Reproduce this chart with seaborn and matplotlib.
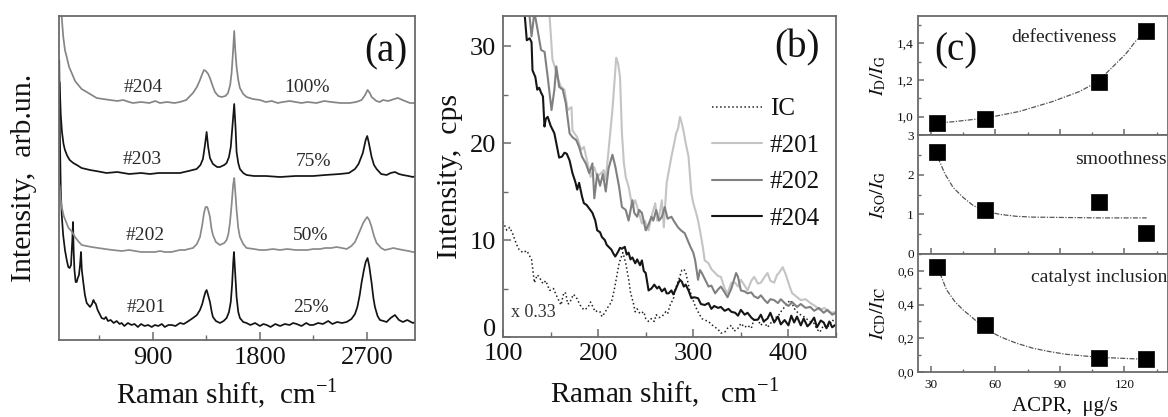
import numpy as np
import pandas as pd
import matplotlib
matplotlib.use("Agg")
import matplotlib.pyplot as plt
import matplotlib.transforms as mtransforms
import seaborn as sns
from matplotlib.ticker import FixedLocator, MultipleLocator

# ---------------- panel (a): Raman spectra (arb. units, stacked) ----------------
a201_x = [112, 118, 125, 133, 145, 160, 175, 188, 200, 211, 222, 228, 233, 240, 250, 259, 268, 278, 287, 295,
          302, 315, 328, 343, 357, 371, 388, 400, 407, 420, 435, 452, 469, 490, 505, 522, 545, 570, 595, 620,
          637, 660, 690, 720, 745, 774, 800, 830, 860, 890, 917, 945, 975, 1000, 1030, 1058, 1090, 1128, 1160,
          1200, 1237, 1270, 1296, 1315, 1330, 1342, 1352, 1362, 1380, 1395, 1405, 1430, 1464, 1495, 1520, 1540,
          1555, 1566, 1576, 1582, 1590, 1604, 1618, 1632, 1660, 1688, 1720, 1760, 1800, 1830, 1857, 1890, 1930,
          1970, 2010, 2050, 2080, 2109, 2150, 2190, 2220, 2248, 2290, 2330, 2375, 2410, 2450, 2490, 2530, 2570,
          2600, 2620, 2640, 2655, 2675, 2690, 2706, 2720, 2740, 2755, 2768, 2790, 2810, 2840, 2866, 2900, 2936,
          2970, 3003, 3040, 3087, 3110]
a201_y = [280, 200, 150, 125, 105, 90, 80, 73, 72, 75, 100, 118, 90, 70, 58, 58, 62, 65, 75, 88,
          70, 57, 45, 37, 35, 33, 36, 40, 38, 36, 30, 26, 22, 21, 23, 19, 20, 17, 19, 16,
          17, 14, 17, 15, 16, 13, 16, 14, 15, 13, 15, 14, 16, 13, 15, 15, 14, 17, 16,
          19, 22, 25, 30, 36, 43, 48, 50, 46, 38, 28, 23, 19, 17, 19, 22, 28,
          38, 55, 78, 88, 72, 43, 28, 22, 18, 17, 15, 17, 14, 16, 15, 13, 16,
          14, 16, 15, 17, 16, 14, 17, 15, 15, 17, 16, 19, 16, 18, 17, 18, 21,
          26, 33, 45, 57, 70, 78, 82, 74, 57, 42, 33, 24, 20, 19, 18, 22, 25,
          20, 18, 20, 17, 18]

a202_x = [115, 125, 135, 150, 170, 190, 215, 230, 245, 270, 301, 340, 385, 440, 497, 560, 637, 700, 750, 800,
          850, 917, 960, 1000, 1058, 1090, 1128, 1170, 1200, 1237, 1270, 1296, 1315, 1330, 1343, 1357, 1370, 1380,
          1392, 1405, 1430, 1464, 1500, 1520, 1535, 1548, 1562, 1575, 1584, 1592, 1604, 1618, 1632, 1660, 1688,
          1750, 1800, 1850, 1910, 1969, 2030, 2100, 2150, 2200, 2250, 2305, 2350, 2400, 2445, 2490, 2530, 2570,
          2600, 2630, 2655, 2669, 2690, 2703, 2720, 2740, 2760, 2782, 2820, 2852, 2890, 2922, 2960, 3003, 3050,
          3087, 3110]
a202_y = [155, 140, 132, 124, 118, 112, 109, 106, 103, 99, 95, 94, 93, 92, 91, 90, 89, 90, 89, 88,
          88, 88, 89, 88, 88, 89, 90, 90, 91, 92, 96, 103, 115, 127, 133, 133, 128, 123,
          112, 105, 98, 95, 97, 100, 106, 117, 135, 155, 162, 150, 130, 112, 103, 96, 92,
          91, 90, 90, 91, 90, 91, 90, 90, 90, 91, 91, 92, 92, 93, 92, 91, 94,
          98, 106, 113, 117, 121, 123, 120, 113, 104, 97, 92, 90, 91, 92, 91, 90, 89,
          88, 88]

a203_x = [115, 125, 135, 148, 160, 180, 200, 230, 260, 300, 371, 420, 511, 600, 700, 800, 875, 950, 1050, 1128,
          1200, 1268, 1300, 1321, 1338, 1352, 1365, 1380, 1405, 1440, 1464, 1500, 1520, 1540, 1555, 1570, 1584,
          1595, 1604, 1618, 1632, 1660, 1688, 1750, 1850, 1969, 2100, 2248, 2350, 2473, 2550, 2600, 2630, 2666,
          2690, 2703, 2715, 2740, 2760, 2782, 2820, 2866, 2900, 2936, 2970, 3003, 3050, 3087, 3110]
a203_y = [258, 225, 208, 196, 190, 184, 180, 177, 175, 172, 170, 169, 167, 168, 166, 167, 166, 167, 167, 167,
          169, 171, 175, 181, 195, 208, 193, 182, 176, 173, 173, 175, 177, 183, 193, 215, 236,
          213, 188, 177, 171, 167, 165, 164, 164, 163, 164, 164, 165, 166, 167, 171, 176, 187,
          200, 204, 198, 183, 175, 171, 166, 165, 167, 168, 166, 165, 164, 163, 164]

a204_x = [115, 133, 140, 146, 160, 175, 195, 217, 245, 272, 300, 343, 385, 427, 480, 539, 600, 650, 700, 732,
          800, 870, 920, 959, 1020, 1080, 1128, 1180, 1237, 1270, 1296, 1315, 1330, 1345, 1352, 1365, 1380, 1400,
          1422, 1450, 1478, 1510, 1532, 1550, 1562, 1575, 1584, 1593, 1604, 1618, 1632, 1660, 1688, 1740, 1800,
          1850, 1900, 1950, 1994, 2050, 2100, 2150, 2200, 2277, 2340, 2400, 2480, 2557, 2610, 2656, 2685, 2706,
          2725, 2740, 2780, 2810, 2835, 2880, 2930, 2961, 3000, 3062, 3110]
a204_y = [380, 323, 312, 303, 290, 283, 273, 267, 259, 255, 251, 248, 245, 242, 241, 240, 239, 240, 238, 237,
          238, 237, 239, 237, 238, 237, 238, 240, 247, 253, 260, 266, 270, 269, 268, 266, 262, 255,
          248, 244, 243, 244, 247, 255, 267, 290, 309, 290, 273, 260, 252, 246, 243, 241, 240,
          238, 239, 237, 238, 239, 238, 237, 238, 237, 239, 238, 237, 237, 238, 240, 245, 250,
          247, 243, 239, 238, 240, 239, 241, 242, 240, 237, 237]

a_samples = ["#201", "#202", "#203", "#204"]
a_percent = ["25%", "50%", "75%", "100%"]
a_xticks = [900, 1800, 2700]

# ---------------- panel (b): low-frequency Raman, cps ----------------
ic_x = [100, 104, 107, 110, 114, 117, 121, 125, 130, 133, 136, 138, 142, 145, 149, 153, 157, 161, 164, 166,
        168, 170, 174, 177, 181, 185, 189, 192, 194, 197, 199, 202, 204, 207, 211, 214, 217, 220, 222, 226,
        229, 232, 234, 237, 239, 241, 244, 248, 250, 253, 256, 259, 261, 264, 267, 271, 273, 276, 279, 281,
        285, 288, 290, 292, 294, 296, 299, 302, 305, 309, 312, 316, 319, 323, 326, 329, 333, 336, 340, 343,
        347, 350, 354, 357, 361, 364, 368, 371, 374, 378, 382, 386, 389, 392, 396, 399, 402, 405, 407, 411,
        416, 420, 424, 427, 430, 433, 437, 441, 444, 446, 450]
ic_y = [11.9, 11.0, 11.3, 10.7, 9.6, 9.0, 8.7, 8.9, 8.0, 5.6, 6.4, 6.2, 5.5, 5.8, 4.8, 5.0, 4.1, 3.3, 4.6, 4.5,
        3.4, 3.5, 4.4, 4.1, 3.3, 2.8, 3.0, 3.6, 3.2, 2.6, 2.7, 2.6, 2.1, 2.5, 3.2, 3.6, 4.9, 6.5, 7.6, 8.7,
        7.6, 6.0, 4.6, 3.5, 2.6, 2.9, 2.4, 2.6, 1.9, 1.6, 1.9, 1.6, 2.3, 2.0, 2.1, 2.6, 2.4, 3.4, 3.9, 4.9,
        6.0, 6.9, 7.0, 6.7, 5.8, 4.9, 4.0, 3.2, 2.6, 1.9, 1.75, 1.6, 1.3, 1.0, 0.8, 0.4, 0.5, 0.9, 1.2, 0.6,
        0.9, 1.4, 1.0, 1.2, 0.9, 1.9, 1.75, 1.2, 1.6, 1.0, 1.5, 2.0, 2.1, 2.6, 3.1, 3.5, 3.8, 3.2, 2.8, 2.4,
        2.1, 1.8, 1.5, 1.4, 0.8, 0.5, 1.2, 1.0, 1.4, 1.75, 1.5]

b201_x = [146, 149, 152, 154, 157, 161, 164.6, 168, 172, 173, 178, 182, 185, 189, 192, 196, 199, 203, 206, 208,
          211, 215, 219, 221, 223, 225, 227, 229, 232, 236, 239, 243, 246, 249, 253, 256, 260, 262, 264, 267,
          269, 272, 277, 280, 282, 284, 286, 288, 290, 292, 295, 298, 300, 303, 305, 307, 310, 312, 316, 319,
          323, 326, 329, 333, 336, 340, 344, 347, 350, 354, 357, 361, 364, 368, 371, 375, 378, 381, 385, 388,
          390, 394, 397, 399, 402, 404, 408, 413, 418, 423, 428, 433, 438, 442, 446, 450]
b201_y = [36, 33, 28.6, 28.0, 26.8, 25.8, 25.5, 23.4, 23.7, 21.3, 20.6, 19.3, 19.6, 17.9, 16.5, 17.5, 16.5, 16.9, 17.2, 16.2,
          19.3, 23.4, 28.8, 28.2, 26.8, 21.0, 18.0, 16.5, 15.5, 13.4, 14.1, 12.8, 11.7, 12.0, 11.0, 12.4, 13.8, 12.0, 12.4, 14.1,
          11.3, 15.9, 18.6, 20.0, 21.0, 21.5, 22.7, 22.0, 21.1, 20.0, 18.6, 14.8, 13.8, 12.8, 12.0, 11.0, 9.3, 7.9, 7.6, 7.0,
          6.6, 6.3, 6.2, 5.0, 4.5, 5.6, 5.6, 5.2, 5.9, 5.3, 4.8, 5.8, 6.2, 5.5, 5.6, 6.2, 6.6, 5.8, 5.6, 6.4,
          6.6, 7.2, 6.5, 5.9, 5.0, 4.5, 4.2, 3.8, 3.9, 3.5, 3.2, 2.8, 3.0, 2.6, 2.5, 2.6]

b202_x = [125, 128, 130, 133, 136.5, 140, 143.7, 147, 151, 154, 156, 159, 162.8, 166, 170, 173, 177, 180, 183, 187,
          190.6, 194, 196, 199, 202, 205, 208, 211, 215, 218, 222, 225, 229, 232, 236, 238, 241, 243, 246, 250,
          253, 256, 258, 261, 264, 267, 270, 273, 277, 280, 284, 287, 291, 294, 297, 300, 302, 305, 307, 309,
          312, 316, 319, 323, 326, 329, 333, 336, 340, 345, 347, 350, 354, 357, 361, 364, 368, 371, 375, 378,
          381, 385, 389, 392, 396, 400, 404, 409, 413, 418, 423, 427, 432, 437, 441, 446, 450]
b202_y = [36, 33, 31, 33.5, 31.6, 29.6, 29.4, 26.8, 23.4, 25.5, 27.9, 25.8, 25.5, 24.1, 21.0, 20.6, 20.3, 19.6, 18.6, 17.9,
          16.9, 17.9, 14.3, 16.8, 15.6, 16.8, 15.0, 17.4, 18.8, 17.6, 15.5, 13.4, 13.1, 12.0, 14.1, 12.8, 12.4, 13.1, 12.8, 11.0,
          11.6, 12.4, 12.0, 13.1, 12.0, 12.4, 13.4, 12.2, 12.4, 11.9, 11.3, 11.0, 10.7, 10.0, 9.3, 8.7, 7.9, 5.9, 6.9, 6.6,
          6.0, 5.2, 5.3, 4.5, 4.9, 5.2, 4.6, 4.1, 5.0, 6.6, 6.2, 4.8, 4.7, 4.5, 4.6, 4.2, 4.0, 4.3, 3.8, 3.5,
          3.9, 3.8, 3.5, 3.9, 3.5, 3.2, 3.6, 3.1, 3.4, 3.0, 3.1, 2.7, 3.0, 2.5, 2.8, 2.3, 2.5]

b204_x = [120, 123, 125, 128, 130, 131, 134, 136, 138, 140, 142, 143.6, 145, 147, 150, 154, 157, 159, 162, 164.6,
          167, 170, 173, 176, 178, 180, 183, 185, 188, 191, 194, 197, 199, 202, 204, 207, 209, 211, 214, 216,
          218, 221, 223, 225, 228, 230, 232, 234, 236, 239, 241, 244, 246, 248, 250, 253, 256, 259, 262, 264,
          267, 270, 272, 274, 277, 279, 281, 284, 286, 288, 290, 292, 295, 298, 301, 305, 308, 312, 316, 319,
          322, 326, 329, 333, 337, 340, 344, 347, 350, 354, 357, 361, 364, 368, 371, 374, 378, 381, 385, 389,
          392, 396, 400, 403, 406, 409, 413, 416, 420, 423, 427, 430, 434, 437, 440, 443, 446, 450]
b204_y = [36, 33, 30.6, 30.8, 30.4, 27.5, 26.8, 25.5, 25.7, 25.2, 24.8, 21.7, 22.5, 22.7, 21.8, 21.0, 19.5, 18.5, 18.6, 19.0,
          18.9, 18.2, 16.9, 16.0, 15.2, 15.9, 14.5, 13.8, 13.6, 13.2, 12.8, 12.0, 11.0, 10.8, 10.3, 10.0, 9.5, 9.3, 9.0, 8.6,
          8.3, 8.8, 9.2, 9.1, 9.3, 8.5, 8.7, 8.0, 8.2, 7.6, 8.0, 7.4, 7.9, 6.8, 6.6, 4.8, 5.0, 5.4, 5.0, 5.2,
          4.7, 5.0, 4.5, 4.5, 4.8, 4.4, 4.8, 5.5, 5.9, 5.7, 5.2, 5.4, 4.8, 4.0, 4.1, 4.0, 3.4, 3.3, 3.5, 2.9,
          3.2, 3.0, 3.1, 2.7, 2.9, 2.6, 2.5, 2.2, 2.8, 2.3, 2.5, 2.0, 1.75, 1.8, 2.3, 1.6, 1.9, 2.5, 1.5, 2.1,
          1.3, 1.75, 1.2, 2.2, 1.5, 2.1, 1.2, 1.9, 1.1, 1.4, 2.0, 1.0, 1.7, 1.5, 0.9, 1.6, 1.0, 1.3]

b_labels = ["IC", "#201", "#202", "#204"]

# ---------------- panel (c): ratios vs ACPR ----------------
acpr = [33, 55, 108, 130]
id_ig = [0.967, 0.985, 1.19, 1.47]
iso_ig = [2.56, 1.11, 1.30, 0.54]
icd_iic = [0.62, 0.279, 0.081, 0.076]

fit_d_x = [30, 33, 40, 55.8, 71.3, 86.6, 99, 107.4, 114.5, 120.7, 125.4, 130.6]
fit_d_y = [0.962, 0.966, 0.972, 0.993, 1.029, 1.083, 1.137, 1.19, 1.272, 1.344, 1.416, 1.47]
fit_so_x = [33.3, 36.5, 40.3, 44.9, 49.5, 55, 62, 69.7, 77.3, 92.9, 108.3, 130.3]
fit_so_y = [2.43, 2.02, 1.68, 1.43, 1.23, 1.08, 1.00, 0.95, 0.93, 0.92, 0.91, 0.91]
fit_cd_x = [34.2, 37.3, 41.1, 45, 49.6, 55, 62, 69.7, 77.5, 85.2, 92.9, 108.3, 130.3]
fit_cd_y = [0.586, 0.487, 0.418, 0.368, 0.319, 0.26, 0.21, 0.171, 0.141, 0.121, 0.105, 0.087, 0.075]

c_x_ticks = [30, 60, 90, 120]
c_top_ticks = [1.0, 1.2, 1.4]
c_top_labels = ["1,0", "1,2", "1,4"]
c_mid_ticks = [0, 1, 2, 3]
c_mid_labels = ["0", "1", "2", "3"]
c_bot_ticks = [0.0, 0.2, 0.4, 0.6]
c_bot_labels = ["0,0", "0,2", "0,4", "0,6"]

# ---------------- style ----------------
sns.set_theme(style="white")
plt.rcParams["font.family"] = ["Liberation Serif", "DejaVu Serif"]
plt.rcParams["mathtext.fontset"] = "stix"
plt.rcParams["axes.unicode_minus"] = False
SPINE = "#6b6b6b"
TXT = "#111111"

W, H = 1168.0, 417.0
fig = plt.figure(figsize=(W / 100, H / 100), dpi=100)


def box(l, t, r, b):
    return [l / W, 1 - b / H, (r - l) / W, (b - t) / H]


def style(ax, lab=19, major=6, minor=3.5):
    for s in ax.spines.values():
        s.set_visible(True)
        s.set_color(SPINE)
        s.set_linewidth(1.3)
    ax.tick_params(which="both", direction="in", color=SPINE, labelcolor=TXT,
                   labelsize=lab, bottom=True, left=True, top=False, right=False)
    ax.tick_params(which="major", length=major, width=1.1)
    ax.tick_params(which="minor", length=minor, width=1.0)


# ---- (a)
axA = fig.add_axes(box(59, 16, 415, 340))
dfa = []
for name, xs, ys in [("#201", a201_x, a201_y), ("#202", a202_x, a202_y),
                     ("#203", a203_x, a203_y), ("#204", a204_x, a204_y)]:
    dfa.append(pd.DataFrame({"shift": xs, "I": ys, "s": name}))
dfa = pd.concat(dfa)
a_colors = {"#201": "#141414", "#202": "#8a8a8a", "#203": "#141414", "#204": "#858585"}
for name in a_samples:
    sns.lineplot(data=dfa[dfa.s == name], x="shift", y="I", ax=axA, color=a_colors[name],
                 lw=1.25, estimator=None, sort=False)
axA.set_xlim(110, 3105)
axA.set_ylim(0, 324)
style(axA)
axA.set_yticks([])
axA.xaxis.set_major_locator(FixedLocator(a_xticks))
axA.xaxis.set_minor_locator(FixedLocator([450, 1350, 2250]))
axA.set_xticklabels([str(v) for v in a_xticks])
axA.tick_params(axis="x", pad=5)
axA.set_xlabel("Raman shift,  cm$^{\\mathregular{-1}}$", fontsize=21, color=TXT)
axA.set_ylabel("Intensity,  arb.un.", fontsize=21.5, color=TXT)
axA.xaxis.set_label_coords(0.472, -0.115)
axA.yaxis.set_label_coords(-0.062, 0.5)
lab_pos = {"#204": (816, 252, 2196, 253), "#203": (808, 180, 2247, 178),
           "#202": (833, 104, 2230, 104), "#201": (841, 32, 2230, 32)}
for name, pct in zip(a_samples, a_percent):
    x1, y1, x2, y2 = lab_pos[name]
    axA.text(x1, y1, name, fontsize=14, ha="center", va="center", color="#2a2a2a")
    axA.text(x2, y2, pct, fontsize=14, ha="center", va="center", color="#2a2a2a")
axA.text(0.918, 0.888, "(a)", transform=axA.transAxes, fontsize=28, ha="center", va="center", color=TXT)

# ---- (b)
axB = fig.add_axes(box(503, 16, 836, 337))
b_series = [("IC", ic_x, ic_y, "#222222", ":", 1.1),
            ("#201", b201_x, b201_y, "#c4c4c4", "-", 1.5),
            ("#202", b202_x, b202_y, "#808080", "-", 1.5),
            ("#204", b204_x, b204_y, "#151515", "-", 1.5)]
for name, xs, ys, col, ls, lw in b_series:
    sns.lineplot(x=xs, y=ys, ax=axB, color=col, linestyle=ls, lw=lw, label=name,
                 estimator=None, sort=False)
axB.set_xlim(100, 450)
axB.set_ylim(0, 33.1)
style(axB)
axB.xaxis.set_major_locator(FixedLocator([100, 200, 300, 400]))
axB.xaxis.set_minor_locator(MultipleLocator(50))
axB.yaxis.set_major_locator(FixedLocator([0, 10, 20, 30]))
axB.yaxis.set_minor_locator(MultipleLocator(5))
axB.tick_params(axis="x", pad=4)
axB.tick_params(axis="y", pad=5)
axB.set_xlabel("Raman shift,   cm$^{\\mathregular{-1}}$", fontsize=21, color=TXT)
axB.set_ylabel("Intensity,  cps", fontsize=21.5, color=TXT)
axB.xaxis.set_label_coords(0.486, -0.125)
axB.yaxis.set_label_coords(-0.12, 0.5)
leg = axB.legend(loc="upper left", bbox_to_anchor=(0.628, 0.745), frameon=False, fontsize=18,
                 handlelength=2.0, handletextpad=0.3, labelspacing=0.56, borderpad=0, borderaxespad=0)
for t in leg.get_texts():
    t.set_color(TXT)
axB.text(0.09, 0.075, "x 0.33", transform=axB.transAxes, fontsize=13, ha="center", va="center", color="#333333")
axB.text(0.883, 0.90, "(b)", transform=axB.transAxes, fontsize=28, ha="center", va="center", color=TXT)
# lift the "0" y-tick label so it sits just above the "100" x-tick label
fig.canvas.draw()
ylab0 = axB.get_yticklabels()[0]
ylab0.set_transform(ylab0.get_transform() + mtransforms.ScaledTranslation(0, 10 / 100, fig.dpi_scale_trans))

# ---- (c)
rows = [(16, 135), (135, 254), (254, 372)]
axC = [fig.add_axes(box(918, t, 1167.5, b)) for t, b in rows]
fits = [(fit_d_x, fit_d_y), (fit_so_x, fit_so_y), (fit_cd_x, fit_cd_y)]
vals = [id_ig, iso_ig, icd_iic]
ylims = [(0.9, 1.55), (0, 3), (0, 0.7)]
yt = [(c_top_ticks, c_top_labels, 0.1), (c_mid_ticks, c_mid_labels, 0.5), (c_bot_ticks, c_bot_labels, 0.1)]
ylabs = ["$I_{\\mathrm{D}}/I_{\\mathrm{G}}$", "$I_{\\mathrm{SO}}/I_{\\mathrm{G}}$", "$I_{\\mathrm{CD}}/I_{\\mathrm{IC}}$"]
for i, ax in enumerate(axC):
    fx, fy = fits[i]
    sns.lineplot(x=fx, y=fy, ax=ax, color="#555555", lw=0.9, linestyle=(0, (4, 1.2, 1, 1.2)),
                 estimator=None, sort=False)
    sns.scatterplot(x=acpr, y=vals[i], ax=ax, marker="s", s=125, color="black",
                    edgecolor="black", linewidth=0.5, zorder=5)
    ax.set_xlim(24, 140)
    ax.set_ylim(*ylims[i])
    style(ax, lab=9.5, major=4, minor=2.5)
    ax.xaxis.set_major_locator(FixedLocator(c_x_ticks))
    ax.xaxis.set_minor_locator(FixedLocator([45, 75, 105, 135]))
    ticks, labels, mn = yt[i]
    ax.yaxis.set_major_locator(FixedLocator(ticks))
    ax.set_yticklabels(labels)
    ax.yaxis.set_minor_locator(MultipleLocator(mn))
    ax.tick_params(axis="y", pad=3)
    ax.set_ylabel(ylabs[i], fontsize=14, color=TXT)
    ax.yaxis.set_label_coords(-0.12, 0.5)
    if i < 2:
        ax.set_xticklabels([])
    else:
        ax.set_xticklabels([str(v) for v in c_x_ticks])
        ax.tick_params(axis="x", pad=5)
        ax.set_xlabel("ACPR,  \u03bcg/s", fontsize=15, color=TXT)
        ax.xaxis.set_label_coords(0.59, -0.21)
axC[0].text(0.584, 0.82, "defectiveness", transform=axC[0].transAxes, fontsize=14,
            ha="center", va="center", color="#222222")
axC[1].text(0.995, 0.79, "smoothness", transform=axC[1].transAxes, fontsize=14,
            ha="right", va="center", color="#222222")
axC[2].text(1.0, 0.80, "catalyst inclusion", transform=axC[2].transAxes, fontsize=14,
            ha="right", va="center", color="#222222")
axC[0].text(0.152, 0.706, "(c)", transform=axC[0].transAxes, fontsize=28, ha="center", va="center", color=TXT)

fig.savefig("out.png", dpi=100)
